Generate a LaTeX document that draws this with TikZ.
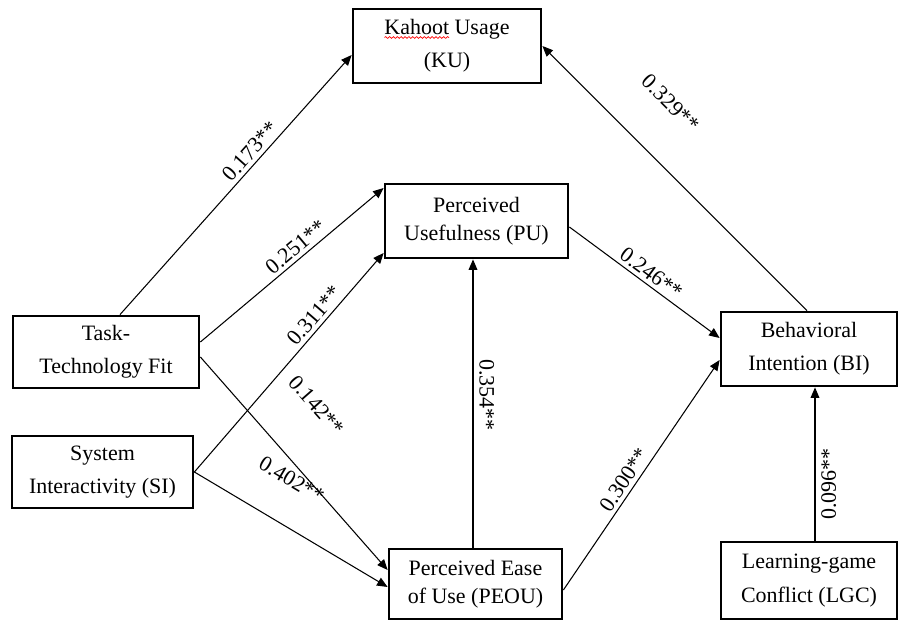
\documentclass[tikz,border=0pt]{standalone}
\usepackage{fontspec}
\setmainfont{Liberation Serif}
\usepackage{tikz}
\usetikzlibrary{arrows.meta,decorations.pathmorphing}

\begin{document}
\begin{tikzpicture}[
  x=0.02cm, y=-0.02cm,
  font=\fontsize{12.5}{16}\selectfont,
  box/.style={draw, line width=1.6pt, fill=white, align=center, inner sep=2pt},
  arr/.style={-{Triangle[length=6pt,width=5pt]}, line width=0.6pt},
  coef/.style={sloped, above, inner sep=2pt},
  spell/.style={red, line width=0.4pt, decorate, decoration={snake, amplitude=0.5pt, segment length=2.2pt}},
]
\useasboundingbox (0,0) rectangle (899,621);

% constructs
\node[box, minimum width=3.76cm, minimum height=1.48cm] (ku) at (447,46) {Kahoot Usage\\[3pt](KU)};
\node[box, minimum width=3.66cm, minimum height=1.48cm] (pu) at (476.5,221) {Perceived\\Usefulness (PU)};
\node[box, minimum width=3.72cm, minimum height=1.44cm] (ttf) at (106,352) {Task-\\[3pt]Technology Fit};
\node[box, minimum width=3.62cm, minimum height=1.44cm] (si) at (102.5,472) {System\\[3pt]Interactivity (SI)};
\node[box, minimum width=3.46cm, minimum height=1.40cm] (peou) at (475.5,584) {Perceived Ease\\of Use (PEOU)};
\node[box, minimum width=3.52cm, minimum height=1.48cm] (bi) at (809,349) {Behavioral\\[3pt]Intention (BI)};
\node[box, minimum width=3.52cm, minimum height=1.54cm] (lgc) at (809,580.5) {Learning-game\\[3pt]Conflict (LGC)};

% spell-check mark under Kahoot
\draw[spell] ([xshift=-1.25cm, yshift=0.17cm]ku.center) -- ([xshift=0.04cm, yshift=0.17cm]ku.center);

% paths
\draw[arr] ([xshift=0.28cm]ttf.north) -- node[coef, pos=0.6] {0.173**} ([yshift=-0.18cm]ku.west);
\draw[arr] ([yshift=0.2cm]ttf.east) -- node[coef, pos=0.56] {0.251**} ([yshift=0.66cm]pu.west);
\draw[arr] (si.east) -- node[coef, pos=0.68] {0.311**} ([yshift=-0.64cm]pu.west);
\draw[arr] ([yshift=-0.1cm]ttf.east) -- node[coef, pos=0.4, above=25pt] {0.142**} ([yshift=0.28cm]peou.west);
\draw[arr] (si.east) -- node[coef, pos=0.39, above=18pt] {0.402**} ([yshift=-0.06cm]peou.west);
\draw[arr] ([xshift=-0.05cm]peou.north) -- node[pos=0.53, rotate=-90, anchor=south] {0.354**} ([xshift=-0.05cm]peou.north |- pu.south);
\draw[arr] ([yshift=-0.12cm]pu.east) -- node[coef, pos=0.5] {0.246**} ([yshift=0.22cm]bi.west);
\draw[arr] ([yshift=-0.12cm]peou.east) -- node[coef, pos=0.45] {0.300**} ([yshift=-0.22cm]bi.west);
\draw[arr] ([xshift=-0.04cm]bi.north) -- node[coef, pos=0.65, above=22pt] {0.329**} (ku.east);
\draw[arr] ([xshift=0.12cm]lgc.north) -- node[pos=0.37, rotate=90, anchor=north] {0.096**} ([xshift=0.12cm]lgc.north |- bi.south);

\end{tikzpicture}
\end{document}
